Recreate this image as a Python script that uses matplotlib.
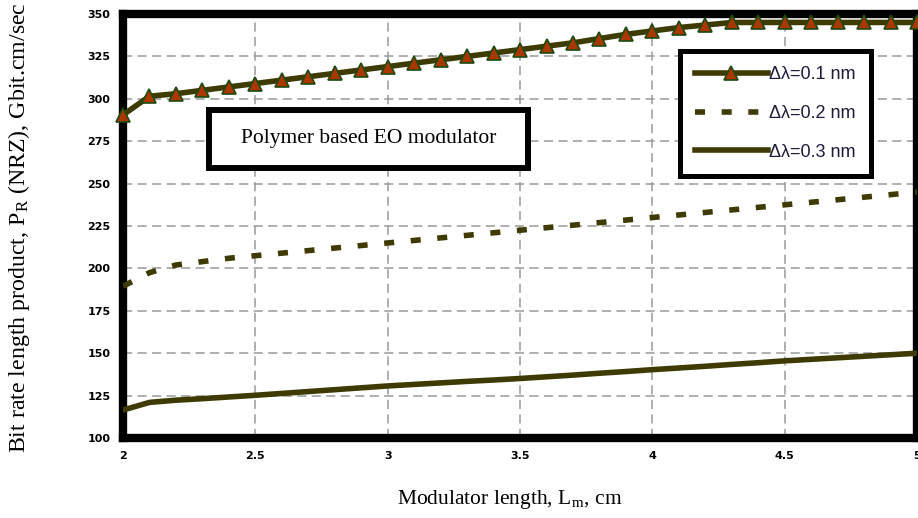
import matplotlib
matplotlib.use("Agg")
import matplotlib.pyplot as plt
from matplotlib.patches import Rectangle

# longueur du modulateur (cm)
longueur = [2.0, 2.1, 2.2, 2.3, 2.4, 2.5, 2.6, 2.7, 2.8, 2.9, 3.0,
            3.1, 3.2, 3.3, 3.4, 3.5, 3.6, 3.7, 3.8, 3.9, 4.0,
            4.1, 4.2, 4.3, 4.4, 4.5, 4.6, 4.7, 4.8, 4.9, 5.0]

# produit debit x longueur (Gbit.cm/sec) pour chaque largeur spectrale
pr_01 = [290.5, 301.5, 303, 305, 307, 309, 311, 313, 315, 317, 319,
         321, 323, 325, 327, 329, 331, 333, 335.5, 338, 340,
         342, 343.5, 345, 345, 345, 345, 345, 345, 345, 345]
pr_02 = [189.5, 197.5, 202, 204, 206, 207.5, 209, 210.5, 212, 213.5, 215,
         216.5, 218, 219.5, 221, 222.5, 224, 225.5, 227, 228.5, 230,
         231.5, 233, 234.5, 236, 237.5, 239, 240.5, 242, 243.5, 245]
pr_03 = [116.5, 121, 122.3, 123.2, 124.2, 125.2, 126.3, 127.4, 128.5, 129.6, 130.7,
         131.6, 132.5, 133.4, 134.2, 135.1, 136.1, 137.1, 138.2, 139.2, 140.3,
         141.3, 142.3, 143.4, 144.4, 145.5, 146.4, 147.3, 148.2, 149.1, 150]

etiquettes = ["\u0394\u03bb=0.1 nm", "\u0394\u03bb=0.2 nm", "\u0394\u03bb=0.3 nm"]
graduations_x = [2, 2.5, 3, 3.5, 4, 4.5, 5]
graduations_y = [100, 125, 150, 175, 200, 225, 250, 275, 300, 325, 350]

plt.rcParams["mathtext.fontset"] = "stix"

couleur = "#3d3a02"

fig = plt.figure(figsize=(9.18, 5.18), dpi=100)
ax = fig.add_axes([0.134, 0.1544, 0.865, 0.8186])

ax.plot(longueur, pr_01, color=couleur, lw=4, marker="^", ms=10,
        mfc="#a83800", mec="#1d4a12", mew=1.2, label=etiquettes[0],
        clip_on=False, zorder=4)
ax.plot(longueur, pr_02, color=couleur, lw=4, dashes=(1.8, 3.0),
        dash_capstyle="butt", label=etiquettes[1], zorder=3)
ax.plot(longueur, pr_03, color=couleur, lw=4, label=etiquettes[2], zorder=3)

ax.set_xlim(2, 5)
ax.set_ylim(100, 350)
ax.set_xticks(graduations_x)
ax.set_xticklabels(["2", "2.5", "3", "3.5", "4", "4.5", "5"])
ax.set_yticks(graduations_y)
ax.tick_params(length=0, pad=9)
for t in ax.get_xticklabels() + ax.get_yticklabels():
    t.set_family("DejaVu Sans")
    t.set_fontsize(8)
    t.set_fontweight("bold")

ax.grid(True, color="#9a9a9a", lw=1.1, dashes=(6, 3.5))
for s in ax.spines.values():
    s.set_linewidth(6)
    s.set_color("black")

# cadre du titre
ax.add_patch(Rectangle((0.108, 0.637), 0.402, 0.137, transform=ax.transAxes,
                       fill=True, facecolor="white", edgecolor="black",
                       lw=4.3, zorder=5))
ax.text(0.309, 0.706, "Polymer based EO modulator", transform=ax.transAxes,
        ha="center", va="center", fontsize=15.5, family="Liberation Serif",
        zorder=6)

leg = ax.legend(loc="upper left", bbox_to_anchor=(680 / 918, 1 - 51 / 518),
                bbox_transform=fig.transFigure, fancybox=False,
                framealpha=1, edgecolor="black", numpoints=1,
                handlelength=4.0, handletextpad=0.1, labelspacing=1.2,
                borderpad=0.85, borderaxespad=0,
                prop={"family": "Liberation Sans", "size": 13})
leg.get_frame().set_linewidth(3.6)
leg.set_zorder(6)
for t in leg.get_texts():
    t.set_color("#1c1c3a")

fig.text(0.021, 0.56, r"Bit rate length product, P$_\mathregular{R}$ (NRZ), Gbit.cm/sec",
         rotation=90, ha="center", va="center", fontsize=17.2,
         family="Liberation Serif")
fig.text(0.5556, 0.035, r"Modulator length, L$_\mathregular{m}$, cm",
         ha="center", va="center", fontsize=15.5, family="Liberation Serif")

fig.savefig("out.png", dpi=100)
